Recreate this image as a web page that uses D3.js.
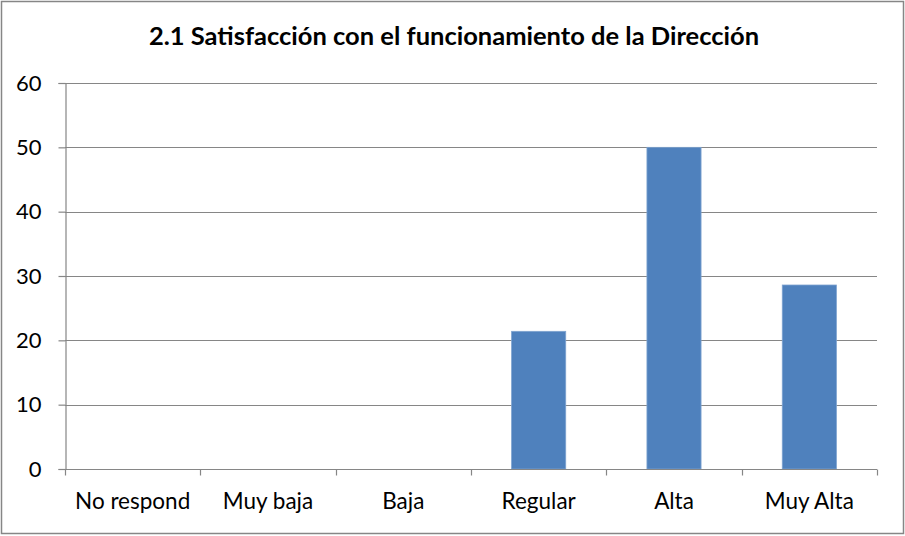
<!doctype html>
<html>
<head>
<meta charset="utf-8">
<script src="https://d3js.org/d3.v7.min.js"></script>
<style>
body { margin: 0; background: #fff; }
text { font-family: Lato, "Open Sans", sans-serif; fill: #000; }
</style>
</head>
<body>
<script>
var width = 905, height = 536;

var title = "2.1 Satisfacción con el funcionamiento de la Dirección";
var categories = ["No respond", "Muy baja", "Baja", "Regular", "Alta", "Muy Alta"];
var values = [0, 0, 0, 21.4, 50, 28.6];
var yTicks = [0, 10, 20, 30, 40, 50, 60];

var margin = {left: 65, right: 28, top: 83, bottom: 67};

var svg = d3.select("body").append("svg")
    .attr("width", width)
    .attr("height", height);

// outer frame
svg.append("rect")
    .attr("x", 1.5).attr("y", 1.5)
    .attr("width", width - 3).attr("height", height - 4)
    .attr("fill", "#fff")
    .attr("stroke", "#868686")
    .attr("stroke-width", 1.5);

var x = d3.scaleBand()
    .domain(categories)
    .range([margin.left, width - margin.right])
    .paddingInner(0.6)
    .paddingOuter(0.3);

var y = d3.scaleLinear()
    .domain([0, 60])
    .range([height - margin.bottom, margin.top]);

// gridlines
svg.append("g").selectAll("line")
    .data(yTicks.slice(1))
    .enter().append("line")
    .attr("x1", margin.left).attr("x2", width - margin.right)
    .attr("y1", function (d) { return Math.round(y(d)) + 0.5; })
    .attr("y2", function (d) { return Math.round(y(d)) + 0.5; })
    .attr("stroke", "#868686")
    .attr("stroke-width", 1.2);

// bars
svg.append("g").selectAll("rect")
    .data(categories.filter(function (c, i) { return values[i] > 0; }))
    .enter().append("rect")
    .attr("x", function (c) { return x(c); })
    .attr("y", function (c) { return y(values[categories.indexOf(c)]); })
    .attr("width", x.bandwidth())
    .attr("height", function (c) { return y(0) - y(values[categories.indexOf(c)]); })
    .attr("fill", "#4f81bd")
    .attr("stroke", "#7ea3d0")
    .attr("stroke-width", 0.8);

// y axis
var yAxis = svg.append("g")
    .attr("transform", "translate(" + (margin.left + 0.5) + ",0)")
    .call(d3.axisLeft(y).tickValues(yTicks).tickSize(7).tickPadding(17));
yAxis.selectAll("text").style("font-size", "22px");
yAxis.select(".domain").attr("stroke", "#868686").attr("stroke-width", 1.2);
yAxis.selectAll(".tick line").attr("stroke", "#868686").attr("stroke-width", 1.2);
yAxis.selectAll("text").attr("fill", "#000");

// x axis with boundary ticks
var bounds = categories.map(function (c, i) { return margin.left + i * (width - margin.left - margin.right) / categories.length; });
bounds.push(width - margin.right);
var xAxis = svg.append("g").attr("transform", "translate(0," + (Math.round(y(0)) + 0.5) + ")");
xAxis.append("line")
    .attr("x1", margin.left).attr("x2", width - margin.right)
    .attr("stroke", "#868686").attr("stroke-width", 1.2);
xAxis.selectAll("line.tick")
    .data(bounds)
    .enter().append("line")
    .attr("class", "tick")
    .attr("x1", function (d) { return Math.round(d) + 0.5; })
    .attr("x2", function (d) { return Math.round(d) + 0.5; })
    .attr("y1", 0).attr("y2", 6)
    .attr("stroke", "#868686").attr("stroke-width", 1.2);
xAxis.selectAll("text")
    .data(categories)
    .enter().append("text")
    .attr("x", function (d) { return x(d) + x.bandwidth() / 2; })
    .attr("y", 39)
    .attr("text-anchor", "middle")
    .style("font-size", "22.5px")
    .text(function (d) { return d; });

// title
svg.append("text")
    .attr("x", 454).attr("y", 45)
    .attr("text-anchor", "middle")
    .style("font-size", "25.5px")
    .style("font-weight", "bold")
    .text(title);
</script>
</body>
</html>
